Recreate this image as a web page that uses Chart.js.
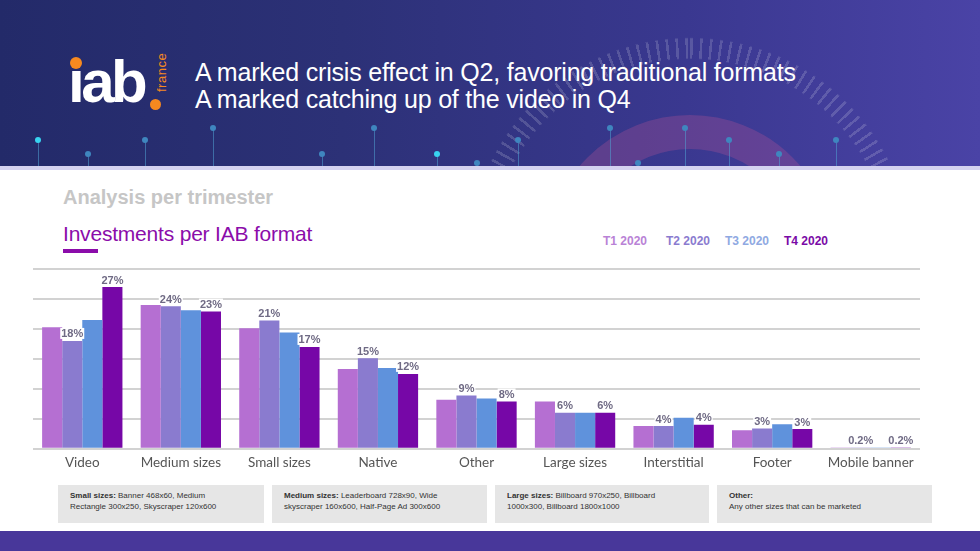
<!DOCTYPE html>
<html>
<head>
<meta charset="utf-8">
<script src="https://cdn.jsdelivr.net/npm/chart.js@4.4.0/dist/chart.umd.min.js"></script>
<style>
  html, body { margin:0; padding:0; }
  body { width:980px; height:551px; position:relative; overflow:hidden; background:#fff; font-family:"Liberation Sans", Arial, sans-serif; }
  #header { position:absolute; left:0; top:0; width:980px; height:168px; overflow:hidden;
    background:linear-gradient(90deg,#232a69 0%,#2c3177 35%,#3a3890 70%,#4a43a6 100%); }
  #header .ring { position:absolute; left:545px; top:115px; width:290px; height:290px; border-radius:50%;
    border:34px solid rgba(195,85,150,0.28); box-sizing:border-box; }
  #header .ring2 { position:absolute; left:465px; top:35px; width:450px; height:450px; border-radius:50%;
    background:repeating-conic-gradient(rgba(255,255,255,0.16) 0deg 0.7deg, transparent 0.7deg 2.6deg);
    -webkit-mask-image:radial-gradient(circle, transparent 0, transparent 63%, #000 63.5%, #000 69.5%, transparent 70%);
    mask-image:radial-gradient(circle, transparent 0, transparent 63%, #000 63.5%, #000 69.5%, transparent 70%); }
  .dot { position:absolute; width:6px; height:6px; border-radius:50%; background:#3d8fc8; }
  .stem { position:absolute; width:1px; background:rgba(80,160,210,0.55); }
  #hline { position:absolute; left:0; top:166px; width:980px; height:4px; background:#d4d2f0; }
  #logo { position:absolute; left:68px; top:48px; width:100px; height:70px; }
  #logo .iab { position:absolute; left:0; top:1px; font-family:"Liberation Sans", Arial, sans-serif; font-weight:bold; font-size:60px; color:#fff; letter-spacing:-3.5px; line-height:66px; }
  #title { position:absolute; left:195px; top:59px; color:#fff; font-size:25px; line-height:27px; letter-spacing:-0.2px; font-family:"Liberation Sans", Arial, sans-serif; }
  #sub1 { position:absolute; left:63px; top:186px; font-size:20px; font-weight:bold; color:#c6c6c6; }
  #sub2 { position:absolute; left:63px; top:222px; font-size:21px; color:#8b0caa; letter-spacing:-0.2px; }
  #underline { position:absolute; left:63px; top:249px; width:35px; height:4px; background:#8b0caa; }
  .leg { position:absolute; top:234px; font-size:12px; font-weight:bold; }
  #chartWrap { position:absolute; left:33px; top:259px; width:887px; height:222px; }
  .note { position:absolute; top:485px; height:38px; background:#e6e6e6; font-size:8px; line-height:11px; color:#333; padding:5px 0 0 12px; box-sizing:border-box; }
  #bottom { position:absolute; left:0; top:531px; width:980px; height:20px; background:#48379a; }
</style>
</head>
<body>
<div id="header">
  <div class="ring2"></div>
  <div class="ring"></div>
  <div id="deco"></div>
  <div id="logo">
    <div class="iab">&#305;ab</div>
  </div>
  <div id="title">A marked crisis effect in Q2, favoring traditional formats<br>A marked catching up of the video in Q4</div>
</div>
<div id="hline"></div>
<div id="sub1">Analysis per trimester</div>
<div id="sub2">Investments per IAB format</div>
<div id="underline"></div>
<div id="legend"></div>
<div id="chartWrap"><canvas id="c" width="887" height="222"></canvas></div>
<div class="note" style="left:58px;width:206px;"><b>Small sizes:</b> Banner 468x60, Medium<br>Rectangle 300x250, Skyscraper 120x600</div>
<div class="note" style="left:272px;width:215px;"><b>Medium sizes:</b> Leaderboard 728x90, Wide<br>skyscraper 160x600, Half-Page Ad 300x600</div>
<div class="note" style="left:495px;width:214px;"><b>Large sizes:</b> Billboard 970x250, Billboard<br>1000x300, Billboard 1800x1000</div>
<div class="note" style="left:717px;width:215px;"><b>Other:</b><br>Any other sizes that can be marketed</div>
<div id="bottom"></div>
<script>
// ---- DATA ----
const categories = ["Video","Medium sizes","Small sizes","Native","Other","Large sizes","Interstitial","Footer","Mobile banner"];
const seriesNames = ["T1 2020","T2 2020","T3 2020","T4 2020"];
const t1 = [20.3, 24.0, 20.1, 13.3, 8.2, 7.9, 3.8, 3.1, 0.2];
const t2 = [18.0, 23.8, 21.4, 15.1, 8.9, 6.0, 3.8, 3.4, 0.2];
const t3 = [21.5, 23.1, 19.4, 13.5, 8.4, 6.0, 5.2, 4.1, 0.2];
const t4 = [27.0, 22.9, 17.0, 12.5, 7.9, 6.0, 4.0, 3.3, 0.2];
const t2Labels = ["18%","24%","21%","15%","9%","6%","4%","3%","0.2%"];
const t4Labels = ["27%","23%","17%","12%","8%","6%","4%","3%","0.2%"];
const yTicks = [0,5,10,15,20,25,30];

// ---- STYLE ----
const barColors = ["#b56fd2","#8a7bcf","#5f92dc","#7607a7"];
const legendColors = ["#b982d6","#8a7bcf","#8fa9e2","#7a0aa6"];

// header decoration
(function(){
  const deco = document.getElementById('deco');
  const pts = [[38,140,1],[88,154,0],[145,140,0],[213,128,0],[322,154,0],[374,128,0],[437,154,1],[477,163,0],[518,140,0],[610,128,0],[638,163,0],[685,128,0],[729,140,0],[779,154,0],[836,140,0]];
  pts.forEach(p=>{
    const s=document.createElement('div'); s.className='stem';
    s.style.left=(p[0]-0.5)+'px'; s.style.top=p[1]+'px'; s.style.height=(168-p[1])+'px';
    deco.appendChild(s);
    const d=document.createElement('div'); d.className='dot';
    d.style.left=(p[0]-3)+'px'; d.style.top=(p[1]-3)+'px';
    d.style.background = p[2] ? '#38d3f0' : '#3f86bf';
    deco.appendChild(d);
  });
  const logo=document.getElementById('logo');
  const d1=document.createElement('div');
  d1.style.cssText='position:absolute;left:2px;top:9px;width:12px;height:12px;border-radius:50%;background:#f7891f;';
  logo.appendChild(d1);
  const d2=document.createElement('div');
  d2.style.cssText='position:absolute;left:82px;top:51px;width:11px;height:11px;border-radius:50%;background:#f7891f;';
  logo.appendChild(d2);
  const fr=document.createElement('div');
  fr.textContent='france';
  fr.style.cssText='position:absolute;left:86px;top:44px;transform:rotate(-90deg);transform-origin:0 0;color:#f7891f;font-size:13px;font-family:"Liberation Sans",Arial,sans-serif;letter-spacing:0.5px;';
  logo.appendChild(fr);
  const legX=[603,666,725,784];
  const leg=document.getElementById('legend');
  seriesNames.forEach((n,i)=>{
    const e=document.createElement('div'); e.className='leg';
    e.style.left=legX[i]+'px'; e.style.color=legendColors[i]; e.textContent=n;
    leg.appendChild(e);
  });
})();

const valueLabels = {
  id:'valueLabels',
  afterDatasetsDraw(chart){
    const ctx=chart.ctx;
    const sets=[[1,t2Labels],[3,t4Labels]];
    ctx.save();
    ctx.font='bold 11px "Liberation Sans", Arial, sans-serif';
    ctx.textAlign='center'; ctx.textBaseline='bottom';
    sets.forEach(([di,labels])=>{
      const meta=chart.getDatasetMeta(di);
      meta.data.forEach((bar,i)=>{
        const txt=labels[i];
        const w=ctx.measureText(txt).width;
        const y=bar.y-2;
        ctx.fillStyle='#ffffff';
        ctx.fillRect(bar.x-w/2-1, y-11, w+2, 11);
        ctx.fillStyle='#6f6a84';
        ctx.fillText(txt, bar.x, y+1);
      });
    });
    ctx.restore();
  }
};

const data = [t1,t2,t3,t4];
new Chart(document.getElementById('c'), {
  type:'bar',
  data:{
    labels:categories,
    datasets: seriesNames.map((n,i)=>({
      label:n, data:data[i], backgroundColor:barColors[i], borderWidth:0,
      barPercentage:1.0, categoryPercentage:0.815
    }))
  },
  options:{
    responsive:false, animation:false,
    layout:{padding:{top:10,bottom:4,left:0,right:0}},
    plugins:{legend:{display:false}, tooltip:{enabled:false}},
    scales:{
      x:{
        grid:{display:false, drawTicks:false},
        border:{display:false},
        ticks:{color:'#555', padding:6, font:{family:'Lato', size:13.5}}
      },
      y:{
        min:0, max:30,
        afterBuildTicks(s){ s.ticks = yTicks.map(v=>({value:v})); },
        grid:{color:'#d2d2d2', lineWidth:2, drawTicks:false},
        border:{display:false},
        ticks:{display:false}
      }
    }
  },
  plugins:[valueLabels]
});
</script>
</body>
</html>
